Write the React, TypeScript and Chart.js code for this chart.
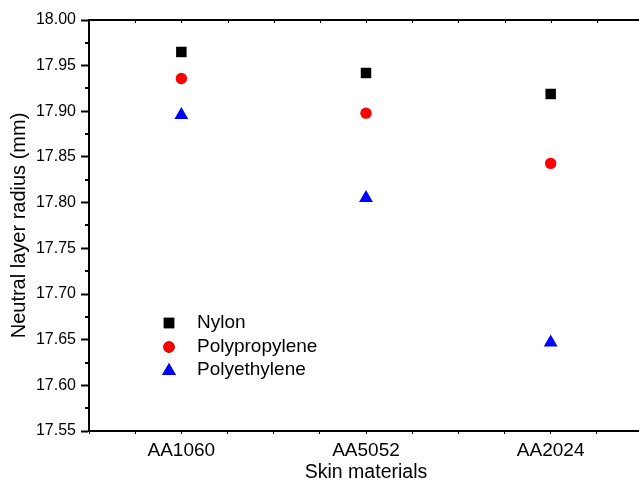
import React, { useEffect, useRef } from 'react';
import { Chart, registerables } from 'chart.js';
import { drawPoint } from 'chart.js/helpers';

Chart.register(...registerables);

// ---- data ----
const categories = ['AA1060', 'AA5052', 'AA2024'];
const seriesNames = ['Nylon', 'Polypropylene', 'Polyethylene'];
const nylon = [17.965, 17.942, 17.919];
const polypropylene = [17.936, 17.898, 17.843];
const polyethylene = [17.896, 17.805, 17.647];
const yMin = 17.55;
const yMax = 18.0;
const yStep = 0.05;
const xMin = 0.5;
const xMax = 3.5;
const xStep = 0.25;

const FONT = "'Liberation Sans', Arial, sans-serif";

const toPoints = (vals: number[]) => categories.map((_, i) => ({ x: i + 1, y: vals[i] }));

const framePlugin = {
  id: 'frameExtras',
  afterDraw(chart: any) {
    const { ctx, chartArea } = chart;
    const ys = chart.scales.y;
    const xs = chart.scales.x;
    ctx.save();
    ctx.strokeStyle = '#000';
    // top axis line
    ctx.lineWidth = 2;
    ctx.beginPath();
    ctx.moveTo(chartArea.left - 1, chartArea.top);
    ctx.lineTo(chartArea.right + 2, chartArea.top);
    ctx.stroke();
    // top axis small ticks
    ctx.lineWidth = 1;
    xs.ticks.forEach((t: any) => {
      const px = Math.round(xs.getPixelForValue(t.value)) + 0.5;
      ctx.beginPath();
      ctx.moveTo(px, chartArea.top);
      ctx.lineTo(px, chartArea.top + 3);
      ctx.stroke();
    });
    // y minor ticks
    ctx.lineWidth = 2;
    for (let v = yMin + yStep / 2; v < yMax; v += yStep) {
      const py = Math.round(ys.getPixelForValue(v));
      ctx.beginPath();
      ctx.moveTo(chartArea.left - 4, py);
      ctx.lineTo(chartArea.left, py);
      ctx.stroke();
    }
    ctx.restore();
  },
};

const legendPlugin = {
  id: 'insideLegend',
  afterDraw(chart: any) {
    const { ctx } = chart;
    ctx.save();
    chart.data.datasets.forEach((ds: any, i: number) => {
      const rowY = 323 + i * 24;
      drawPoint(
        ctx,
        {
          pointStyle: ds.pointStyle,
          radius: ds.pointRadius,
          rotation: 0,
          borderWidth: 0,
        } as any,
        169,
        rowY
      );
      ctx.fillStyle = ds.backgroundColor;
      ctx.fill();
      ctx.fillStyle = '#000';
      ctx.font = `19px ${FONT}`;
      ctx.textBaseline = 'middle';
      ctx.textAlign = 'left';
      ctx.fillText(ds.label, 197, i === 2 ? rowY - 1 : rowY);
    });
    ctx.restore();
  },
};

export default function App() {
  const canvasRef = useRef<HTMLCanvasElement | null>(null);

  useEffect(() => {
    if (!canvasRef.current) return;
    const chart = new Chart(canvasRef.current, {
      type: 'scatter',
      data: {
        datasets: [
          {
            label: seriesNames[0],
            data: toPoints(nylon),
            pointStyle: 'rect',
            pointRadius: 7.4,
            backgroundColor: '#000000',
            borderColor: '#000000',
            borderWidth: 0,
            showLine: false,
          },
          {
            label: seriesNames[1],
            data: toPoints(polypropylene),
            pointStyle: 'circle',
            pointRadius: 5.7,
            backgroundColor: '#ff0000',
            borderColor: '#ff0000',
            borderWidth: 0,
            showLine: false,
          },
          {
            label: seriesNames[2],
            data: toPoints(polyethylene),
            pointStyle: 'triangle',
            pointRadius: 8,
            backgroundColor: '#0000ff',
            borderColor: '#0000ff',
            borderWidth: 0,
            showLine: false,
          },
        ],
      },
      options: {
        animation: false,
        responsive: false,
        devicePixelRatio: 1,
        layout: { padding: { top: 20, right: 0, left: 0, bottom: 0 } },
        plugins: {
          legend: { display: false },
          tooltip: { enabled: false },
        },
        scales: {
          x: {
            type: 'linear',
            min: xMin,
            max: xMax,
            afterFit: (s: any) => {
              s.height = 53;
              s.paddingRight = 0;
              s.paddingLeft = 0;
            },
            border: { display: true, color: '#000', width: 2 },
            grid: {
              drawOnChartArea: false,
              drawTicks: true,
              tickLength: 3,
              tickWidth: 1,
              tickColor: '#000',
            },
            ticks: {
              stepSize: xStep,
              includeBounds: false,
              autoSkip: false,
              maxRotation: 0,
              minRotation: 0,
              padding: 5,
              color: '#000',
              font: { family: FONT, size: 19 },
              callback: (v: any) => {
                const n = Number(v);
                const r = Math.round(n);
                return Math.abs(n - r) < 1e-6 && r >= 1 && r <= categories.length
                  ? categories[r - 1]
                  : '';
              },
            },
            title: {
              display: true,
              text: 'Skin materials',
              color: '#000',
              font: { family: FONT, size: 19.5 },
              padding: { top: 0, bottom: 0 },
            },
          },
          y: {
            type: 'linear',
            min: yMin,
            max: yMax,
            afterFit: (s: any) => {
              s.width = 89;
            },
            border: { display: true, color: '#000', width: 2 },
            grid: {
              drawOnChartArea: false,
              drawTicks: true,
              tickLength: 8,
              tickWidth: 2,
              tickColor: '#000',
            },
            ticks: {
              stepSize: yStep,
              includeBounds: false,
              padding: 5,
              color: '#000',
              font: { family: FONT, size: 16 },
              callback: (v: any) => Number(v).toFixed(2),
            },
            title: {
              display: true,
              text: 'Neutral layer radius (mm)',
              color: '#000',
              font: { family: FONT, size: 20 },
              padding: { top: 7, bottom: 0 },
            },
          },
        },
      },
      plugins: [framePlugin, legendPlugin],
    } as any);
    return () => chart.destroy();
  }, []);

  return (
    <div
      style={{
        position: 'fixed',
        left: 0,
        top: 0,
        width: 639,
        height: 484,
        overflow: 'hidden',
        background: '#fff',
      }}
    >
      <canvas ref={canvasRef} width={651} height={484} style={{ display: 'block' }} />
    </div>
  );
}
